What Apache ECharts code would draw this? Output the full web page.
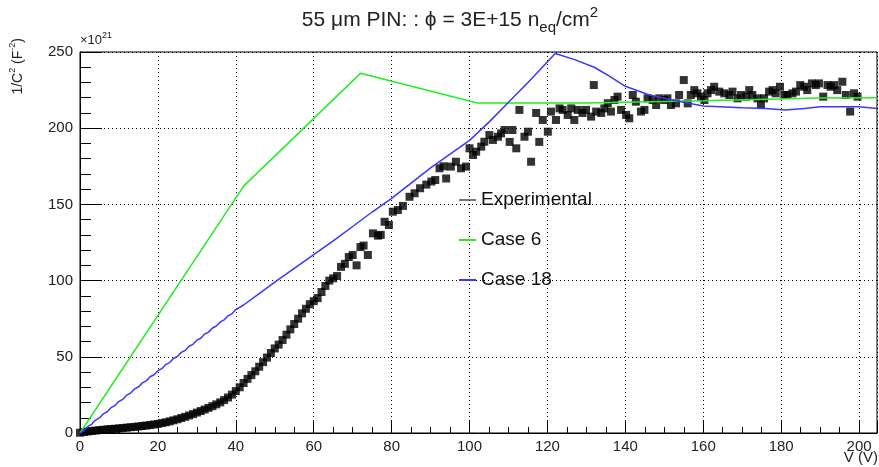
<!DOCTYPE html>
<html>
<head>
<meta charset="utf-8">
<script src="https://cdn.jsdelivr.net/npm/echarts@6/dist/echarts.min.js"></script>
<style>
  html, body { margin: 0; padding: 0; background: #fff; }
  #main { width: 879px; height: 467px; }
</style>
</head>
<body>
<div id="main"></div>
<script>
var myChart = echarts.init(document.getElementById('main'));

// experimental points, V and 1/C^2 (x1e21)
var expV = [0, 1, 2, 3, 4, 5, 6, 7, 8, 9, 10, 11, 12, 13, 14, 15, 16, 17, 18, 19,
  20, 21, 22, 23, 24, 25, 26, 27, 28, 29, 30, 31, 32, 33, 34, 35, 36, 37, 38, 39,
  40, 41, 42, 43, 44, 45, 46, 47, 48, 49, 50, 51, 52, 53, 54, 55, 56, 57, 58, 59,
  60, 61, 62, 63, 64, 65, 66, 67, 68, 69, 70, 71, 72, 72.8, 73.9, 75.2, 76.5, 77.2, 78.2, 79.3,
  80.3, 81.6, 82.9, 84.6, 85.9, 87.3, 88.9, 90.2, 91.2, 92.3, 93.3, 94, 95.2, 96.5, 97.8, 99.1,
  100, 100.9, 101.7, 103, 103.8, 105.1, 106, 107.3, 108.1, 109, 110.3, 111, 112, 112.8, 114.1, 115,
  115.8, 117.1, 117.9, 118.8, 120.1, 120.9, 122.2, 123.1, 123.9, 125.2, 126.1, 126.9, 127.8, 129, 129.9, 131.2,
  131.9, 132.5, 133.8, 134.6, 135.5, 136.3, 137.2, 138, 138.9, 140.2, 141, 141.9, 142.7, 144, 144.9, 145.7,
  147, 147.9, 148.7, 150, 150.8, 151.7, 153, 153.8, 155, 156, 156.8, 157.7, 158.5, 159.4, 160.3, 161.1,
  162, 162.8, 164.1, 165.4, 166.7, 167.5, 168.8, 169.7, 171, 171.8, 172.6, 173.9, 174.8, 175.6, 176.9, 177.8,
  178.6, 179.7, 180.8, 181.6, 182.9, 183.8, 184.9, 185.9, 186.7, 187.9, 188.9, 189.7, 190.8, 191.9, 192.7, 193.6,
  194.4, 195.7, 196.6, 197.7, 198.7, 199.6];
var expY = [0.2, 0.6, 1.0, 1.3, 1.6, 1.9, 2.1, 2.4, 2.6, 2.8, 3.0, 3.3, 3.5, 3.8, 4.0, 4.3, 4.6, 4.9, 5.2, 5.6,
  6.0, 6.5, 7.0, 7.6, 8.3, 9.0, 9.8, 10.6, 11.5, 12.4, 13.4, 14.4, 15.4, 16.5, 17.6, 18.8, 20.1, 21.6, 23.3, 25.2,
  27.5, 30, 32.8, 35.5, 38, 40.5, 43.5, 46.5, 49.5, 52.5, 55.5, 58, 61, 64.5, 68, 71.5, 75, 78.5, 81.5, 84.5,
  86.5, 88.5, 92.5, 96.5, 100, 101.5, 103, 109, 111, 115.5, 116.8, 110, 122, 123, 116.8, 131, 129.5, 130, 138.6, 136.5,
  145.2, 146.3, 149, 155, 157.3, 160.6, 163, 165, 166, 173.7, 175, 167, 174.8, 178, 173.7, 174.8,
  186.8, 182.4, 184.6, 187.9, 191.1, 195.5, 192.3, 194.4, 196.6, 198.8, 191, 198.8, 186.8, 212, 194.4, 197.7,
  178, 210, 191, 205.4, 197.7, 210.9, 205.4, 213, 212, 208.7, 213, 205.4, 212, 210, 212, 207.6,
  228.3, 210.9, 210, 213, 216.4, 210.9, 218.5, 220.7, 212, 208.7, 206.5, 221.8, 217.4, 210.9, 212, 219.6,
  218.5, 215.2, 219.6, 218.5, 219.6, 215.2, 216.3, 221.8, 231.6, 216.3, 221.8, 225, 222.9, 220.7, 218.5, 222.9,
  225, 227.2, 224, 222.9, 221.8, 224, 219.6, 221.8, 220.7, 225, 221.8, 219.6, 215.2, 219.6, 224, 225,
  222.9, 227.2, 221.8, 221.8, 222.9, 224, 228.3, 227.2, 225, 229.4, 228.3, 229.4, 220.7, 228.3, 227.2, 228.3,
  225, 230.5, 221.8, 210.9, 222.9, 220.7];

// simulation Case 6
var case6V = [0, 42, 72, 102, 130, 160, 190, 204.6];
var case6Y = [0, 162, 236, 216.5, 216.5, 218, 219.8, 220];

// simulation Case 18
var case18V = [0, 1, 2, 3, 4, 5, 6, 7, 8, 9, 10, 11, 12, 13, 14, 15, 16, 17, 18, 19,
  20, 21, 22, 23, 24, 25, 26, 27, 28, 29, 30, 31, 32, 33, 34, 35, 36, 37, 38, 39, 40,
  42, 46, 50, 55, 60, 65, 70, 75, 80, 85, 90, 95, 100, 105, 110, 115, 122,
  127, 132, 136, 140, 146, 152, 160, 170, 176, 181, 186, 190, 196, 200, 204.6];
var case18Y = [0, 1.6, 4.3, 5.7, 8.5, 9.9, 12.6, 14.0, 16.7, 18.1, 20.8, 22.1, 24.8, 26.2, 28.9, 30.2, 32.9, 34.2, 36.9, 38.2,
  40.9, 42.2, 44.9, 46.2, 48.9, 50.2, 52.9, 54.2, 56.9, 58.2, 60.9, 62.2, 64.9, 66.2, 68.9, 70.2, 72.9, 74.2, 76.9, 78.2, 81.0,
  84.0, 91.5, 99, 108, 117, 126, 135.5, 145, 154, 164, 174, 183, 192, 204, 217, 230, 249,
  245, 240, 234, 227.5, 222, 218.5, 214.5, 213.5, 213, 212, 213, 214, 214, 214, 213];

var xTicks = [0, 20, 40, 60, 80, 100, 120, 140, 160, 180, 200];
var yTicks = [0, 50, 100, 150, 200, 250];

function zip(a, b) {
  return a.map(function (v, i) { return [v, b[i]]; });
}

var font = 'Liberation Sans';
var dotted = { color: '#000', type: [1, 3], width: 1 };

option = {
  animation: false,
  backgroundColor: '#fff',
  grid: {
    left: 80,
    right: 2,
    top: 52,
    bottom: 34,
    show: true,
    borderColor: '#000',
    borderWidth: 1
  },
  legend: {
    orient: 'vertical',
    left: 454,
    top: 185,
    itemGap: 20,
    itemWidth: 17,
    itemHeight: 2,
    textStyle: { fontFamily: font, fontSize: 19, lineHeight: 20, color: '#111' },
    data: [
      { name: 'Experimental', icon: 'rect', itemStyle: { color: '#555' } },
      { name: 'Case 6', icon: 'rect' },
      { name: 'Case 18', icon: 'rect' }
    ]
  },
  xAxis: {
    type: 'value',
    min: xTicks[0],
    max: 204.6,
    interval: 20,
    axisLine: { lineStyle: { color: '#000', width: 1 } },
    axisTick: { inside: true, length: 12, lineStyle: { color: '#000' } },
    minorTick: { show: true, splitNumber: 4, length: 6, lineStyle: { color: '#000' } },
    splitLine: { show: true, lineStyle: dotted },
    axisLabel: {
      margin: 6, showMaxLabel: false,
      fontFamily: font, fontSize: 15, color: '#222'
    }
  },
  yAxis: {
    type: 'value',
    min: yTicks[0],
    max: yTicks[yTicks.length - 1],
    interval: 50,
    axisLine: { show: true, lineStyle: { color: '#000', width: 1 } },
    axisTick: { show: true, inside: true, length: 22, lineStyle: { color: '#000' } },
    minorTick: { show: true, splitNumber: 5, length: 11, lineStyle: { color: '#000' } },
    splitLine: { show: true, lineStyle: dotted },
    axisLabel: { margin: 7, fontFamily: font, fontSize: 15, color: '#222' }
  },
  graphic: [
    {
      type: 'text', x: 450, y: 20,
      style: {
        text: '{n|55 μm PIN: : ϕ = 3E+15 n}{sub|eq}{n|/cm}{sup|2}',
        align: 'center', verticalAlign: 'middle',
        rich: {
          n: { fontFamily: font, fontSize: 21, lineHeight: 30, fill: '#222' },
          sub: { fontFamily: font, fontSize: 15, lineHeight: 14, verticalAlign: 'bottom', fill: '#222' },
          sup: { fontFamily: font, fontSize: 15, lineHeight: 14, verticalAlign: 'top', fill: '#222' }
        }
      }
    },
    {
      type: 'text', x: 18, y: 38, rotation: Math.PI / 2,
      style: {
        text: '{n|1/C}{sup|2}{n| (F}{sup|-2}{n|)}',
        align: 'right', verticalAlign: 'middle',
        rich: {
          n: { fontFamily: font, fontSize: 14, lineHeight: 20, fill: '#222' },
          sup: { fontFamily: font, fontSize: 9, lineHeight: 10, verticalAlign: 'top', fill: '#222' }
        }
      }
    },
    {
      type: 'text', x: 80, y: 40,
      style: {
        text: '{n|×10}{sup|21}',
        align: 'left', verticalAlign: 'middle',
        rich: {
          n: { fontFamily: font, fontSize: 13, lineHeight: 18, fill: '#222' },
          sup: { fontFamily: font, fontSize: 9, lineHeight: 9, verticalAlign: 'top', fill: '#222' }
        }
      }
    },
    {
      type: 'text', x: 878, y: 458,
      style: {
        text: 'V (V)', align: 'right', verticalAlign: 'middle',
        fontFamily: font, fontSize: 15, fill: '#222'
      }
    }
  ],
  series: [
    {
      name: 'Experimental',
      type: 'scatter',
      symbol: 'rect',
      symbolSize: 8,
      itemStyle: { color: '#000' },
      data: zip(expV, expY)
    },
    {
      name: 'Case 6',
      type: 'line',
      showSymbol: false,
      symbol: 'none',
      itemStyle: { color: '#22ee22' },
      lineStyle: { color: '#22ee22', width: 1.5 },
      data: zip(case6V, case6Y)
    },
    {
      name: 'Case 18',
      type: 'line',
      showSymbol: false,
      symbol: 'none',
      itemStyle: { color: '#3838ff' },
      lineStyle: { color: '#3838ff', width: 1.5 },
      data: zip(case18V, case18Y)
    }
  ]
};
myChart.setOption(option);
</script>
</body>
</html>
